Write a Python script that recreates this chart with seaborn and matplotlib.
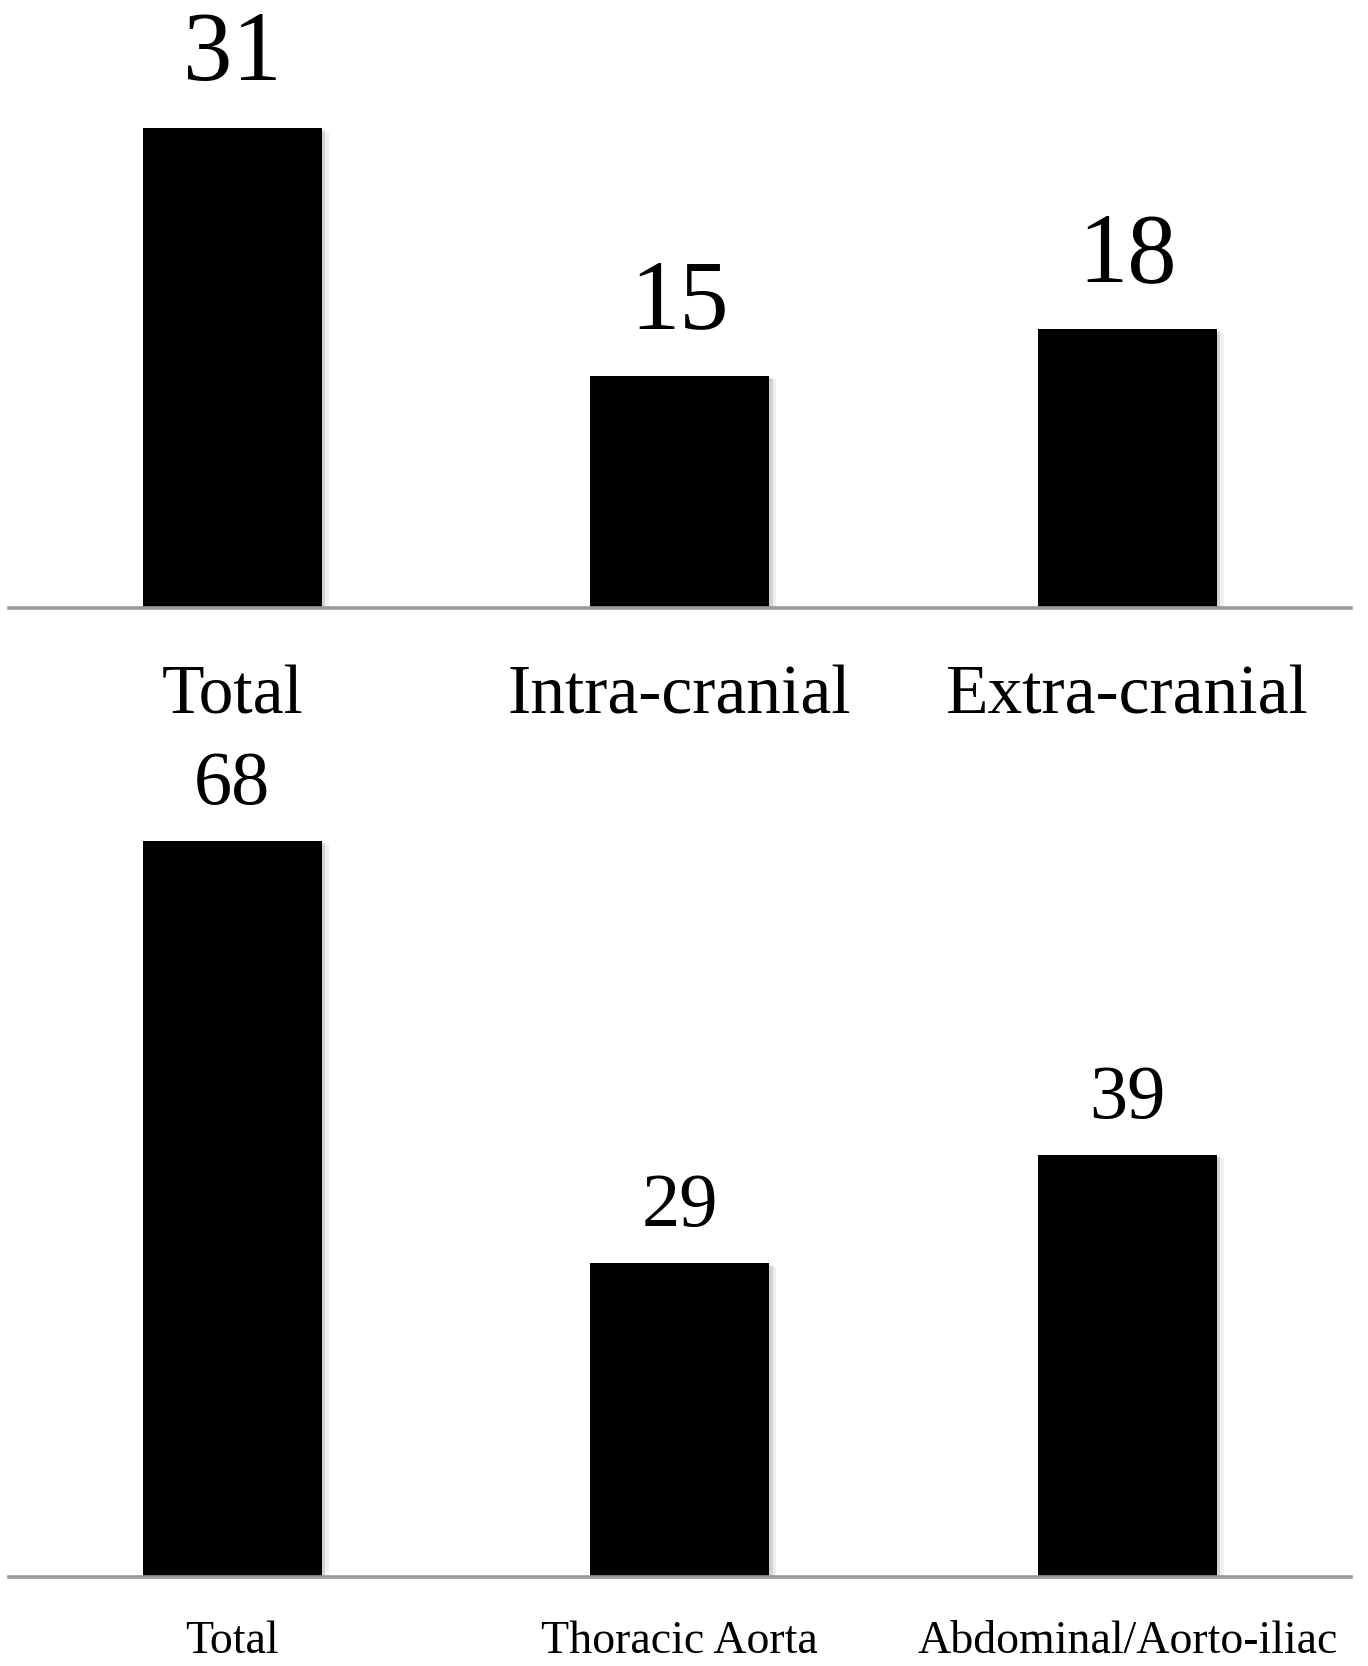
import matplotlib
matplotlib.use("Agg")
import matplotlib.pyplot as plt
import matplotlib.patheffects as pe
import seaborn as sns
import pandas as pd

# Aneurysm counts by location
head_categories = ["Total", "Intra-cranial", "Extra-cranial"]
head_counts = [31, 15, 18]

aorta_categories = ["Total", "Thoracic Aorta", "Abdominal/Aorto-iliac"]
aorta_counts = [68, 29, 39]

sns.set_style("white")
plt.rcParams["font.family"] = ["Liberation Serif", "DejaVu Serif"]

W, H = 1368, 1666
fig = plt.figure(figsize=(W / 100, H / 100), dpi=100)

left = 8.5 / W
width = 1342.5 / W

# (categories, counts, axis baseline px, top px, px per unit, value font, tick font, value gap pt, tick baseline pt)
panels = [
    (head_categories, head_counts, 608, 0, 15.48, 71, 50, 34.6, 76.3),
    (aorta_categories, aorta_counts, 1577, 700, 10.82, 55, 33, 26.6, 54.7),
]

bar_shadow = [
    pe.SimplePatchShadow(offset=(5, -2.5), shadow_rgbFace="#000000", alpha=0.06),
    pe.SimplePatchShadow(offset=(2.5, -1.5), shadow_rgbFace="#000000", alpha=0.12),
    pe.Normal(),
]

for cats, counts, base_px, top_px, px_per_unit, vfs, tfs, vgap, tpad in panels:
    ax = fig.add_axes([left, 1 - base_px / H, width, (base_px - top_px) / H])
    df = pd.DataFrame({"location": cats, "count": counts})
    sns.barplot(data=df, x="location", y="count", color="black", width=0.4,
                saturation=1, ax=ax)
    for patch in ax.patches:
        patch.set_path_effects(bar_shadow)
        patch.set_edgecolor("none")

    ax.set_xlim(-0.5, 2.5)
    ax.set_ylim(0, (base_px - top_px) / px_per_unit)

    for i, v in enumerate(counts):
        ax.annotate(str(v), xy=(i, v), xytext=(0, vgap), textcoords="offset points",
                    ha="center", va="baseline", fontsize=vfs, color="black")

    for s in ["top", "left", "right"]:
        ax.spines[s].set_visible(False)
    ax.spines["bottom"].set_color("#999999")
    ax.spines["bottom"].set_linewidth(2.6)
    ax.set_yticks([])
    ax.set_xlabel("")
    ax.set_ylabel("")
    ax.tick_params(axis="x", length=0, pad=tpad, labelsize=tfs, labelcolor="black")
    for lbl in ax.get_xticklabels():
        lbl.set_va("baseline")
    ax.patch.set_alpha(0)

fig.savefig("out.png", dpi=100, facecolor="white")
